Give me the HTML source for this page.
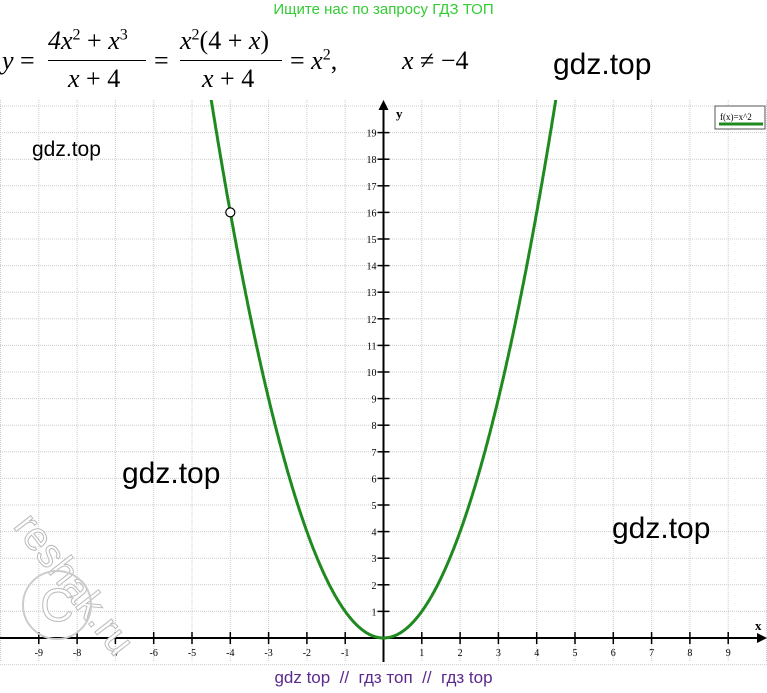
<!DOCTYPE html>
<html><head><meta charset="utf-8"><style>
body{margin:0;background:#fff;width:767px;height:693px;overflow:hidden;position:relative;font-family:"Liberation Sans",sans-serif}
.abs{position:absolute;white-space:nowrap}
.serif{font-family:"Liberation Serif",serif}
</style></head><body>
<div class="abs" style="left:0;width:767px;top:1px;text-align:center;color:#33cc33;font-size:15px;">Ищите нас по запросу ГДЗ ТОП</div>
<div class="abs serif" style="left:2px;top:26px;font-size:26px;height:70px;">
<span style="position:absolute;left:0;top:20px;font-style:italic">y</span>
<span style="position:absolute;left:18px;top:20px">=</span>
<span style="position:absolute;left:46px;top:0px"><i>4x</i><sup style="font-size:16px">2</sup> + <i>x</i><sup style="font-size:16px">3</sup></span>
<span style="position:absolute;left:46px;top:34px;width:98px;border-top:1.5px solid #000"></span>
<span style="position:absolute;left:66px;top:38px"><i>x</i> + 4</span>
<span style="position:absolute;left:152px;top:20px">=</span>
<span style="position:absolute;left:178px;top:0px"><i>x</i><sup style="font-size:16px">2</sup>(4 + <i>x</i>)</span>
<span style="position:absolute;left:178px;top:34px;width:102px;border-top:1.5px solid #000"></span>
<span style="position:absolute;left:200px;top:38px"><i>x</i> + 4</span>
<span style="position:absolute;left:288px;top:20px">= <i>x</i><sup style="font-size:16px">2</sup>,</span>
<span style="position:absolute;left:400px;top:20px"><i>x</i> ≠ −4</span>
</div>
<div class="abs" style="left:553px;top:48px;font-size:30px">gdz.top</div>
<svg class="abs" style="left:0;top:0" width="767" height="693">
<defs><clipPath id="cp"><rect x="0" y="100" width="767" height="593"/></clipPath></defs>
<g id="grid"></g>
<g id="axes"></g>
<path id="curve" clip-path="url(#cp)" fill="none" stroke="#1f8a1f" stroke-width="3"/>
<circle id="hole" r="4.5" fill="#fff" stroke="#000" stroke-width="1.2"/>
<g>
<rect x="715" y="106" width="50" height="23" fill="#fff" stroke="#555"/>
<text x="720" y="120" font-family="Liberation Serif" font-size="9">f(x)=x^2</text>
<line x1="719" y1="124" x2="763" y2="124" stroke="#1f8a1f" stroke-width="3"/>
</g>
</svg>
<div class="abs" style="left:32px;top:138px;font-size:21px">gdz.top</div>
<div class="abs" style="left:122px;top:457px;font-size:30px">gdz.top</div>
<div class="abs" style="left:612px;top:512px;font-size:30px">gdz.top</div>
<div class="abs" style="left:40px;top:505px;font-size:40px;color:#fff;-webkit-text-stroke:1px #bbb;transform:rotate(52deg);transform-origin:0 0">reshak.ru</div>
<div class="abs" style="left:22px;top:570px;width:66px;height:66px;border:2px solid #ccc;border-radius:50%;text-align:center;line-height:66px;font-size:46px;color:#fff;-webkit-text-stroke:1px #bbb">C</div>
<div class="abs" style="left:0;width:767px;top:668px;text-align:center;color:#5b2a8c;font-size:17px">gdz top &nbsp;// &nbsp;гдз топ &nbsp;// &nbsp;гдз top</div>
<script>
const xTicks=[-9,-8,-7,-6,-5,-4,-3,-2,-1,1,2,3,4,5,6,7,8,9];
const yTicks=[1,2,3,4,5,6,7,8,9,10,11,12,13,14,15,16,17,18,19];
const excludedX=[-4];
const x0=383.5,y0=638,ux=38.3,uy=26.6;
const sx=v=>x0+v*ux, sy=v=>y0-v*uy;
const NS='http://www.w3.org/2000/svg';
function mk(tag,at,parent){const e=document.createElementNS(NS,tag);for(const k in at)e.setAttribute(k,at[k]);parent.appendChild(e);return e;}
const grid=document.getElementById('grid'),axes=document.getElementById('axes');
for(let i=-10;i<=10;i++){const l=mk('line',{x1:sx(i),x2:sx(i),y1:100,y2:662,stroke:'#ccc','stroke-dasharray':'1 1'},grid);

}
for(let j=-1;j<=20;j++){const l=mk('line',{x1:0,x2:767,y1:sy(j),y2:sy(j),stroke:'#ccc','stroke-dasharray':'1 1'},grid);

}
mk('line',{x1:0,x2:760,y1:y0,y2:y0,stroke:'#000','stroke-width':2},axes);
mk('path',{d:`M767 ${y0} l-10 -5 v10z`,fill:'#000'},axes);
mk('line',{x1:x0,x2:x0,y1:108,y2:662,stroke:'#000','stroke-width':2},axes);
mk('path',{d:`M${x0} 100 l-5 10 h10z`,fill:'#000'},axes);
mk('text',{x:755,y:630,'font-family':'Liberation Serif','font-size':13,'font-weight':'bold'},axes).textContent='x';
mk('text',{x:396,y:118,'font-family':'Liberation Serif','font-size':13,'font-weight':'bold'},axes).textContent='y';
xTicks.forEach(v=>{mk('line',{x1:sx(v),x2:sx(v),y1:y0-6,y2:y0+6,stroke:'#000','stroke-width':1.5},axes);
const t=mk('text',{x:sx(v),y:y0+18,'text-anchor':'middle','font-family':'Liberation Serif','font-size':10},axes);t.textContent=v;

});
yTicks.forEach(v=>{mk('line',{x1:x0-6,x2:x0+6,y1:sy(v),y2:sy(v),stroke:'#000','stroke-width':1.5},axes);
const t=mk('text',{x:x0-7,y:sy(v)+4,'text-anchor':'end','font-family':'Liberation Serif','font-size':10},axes);t.textContent=v;

});
let d='';for(let x=-4.7;x<=4.7;x+=0.02){d+=(d?'L':'M')+sx(x).toFixed(1)+' '+sy(x*x).toFixed(1);}
document.getElementById('curve').setAttribute('d',d);
const h=document.getElementById('hole');h.setAttribute('cx',sx(excludedX[0]));h.setAttribute('cy',sy(excludedX[0]**2));
</script>
</body></html>
